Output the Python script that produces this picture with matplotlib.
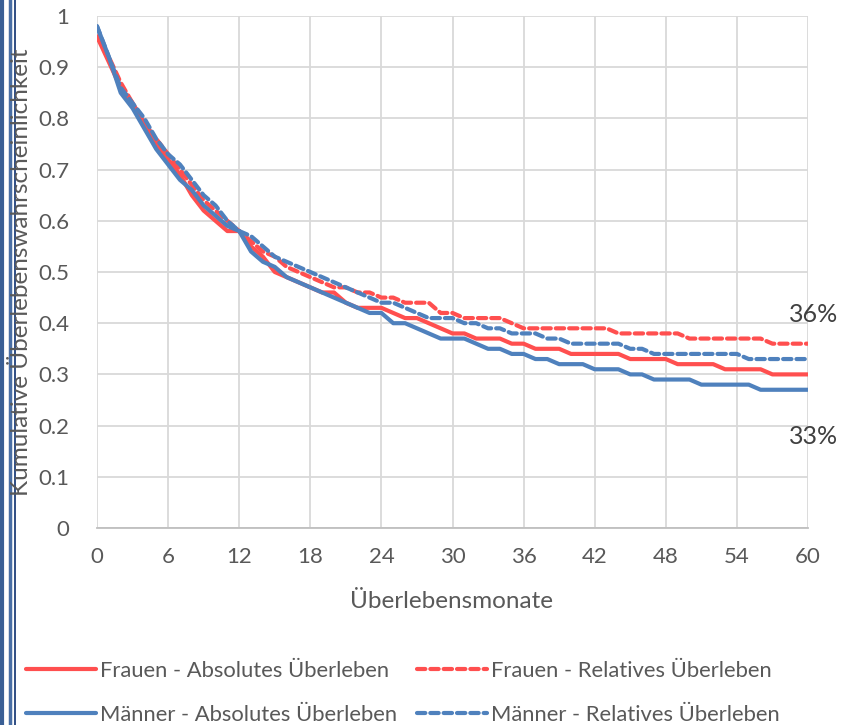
import matplotlib
matplotlib.use("Agg")
import matplotlib.pyplot as plt
from matplotlib.lines import Line2D

plt.rcParams['font.family'] = ['Lato', 'DejaVu Sans']

months = list(range(0, 61))

frauen_absolut = [0.96, 0.91, 0.86, 0.83, 0.79, 0.75, 0.72, 0.69, 0.65, 0.62,
                  0.60, 0.58, 0.58, 0.55, 0.53, 0.50, 0.49, 0.48, 0.47, 0.46,
                  0.46, 0.44, 0.43, 0.43, 0.43, 0.42, 0.41, 0.41, 0.40, 0.39,
                  0.38, 0.38, 0.37, 0.37, 0.37, 0.36, 0.36, 0.35, 0.35, 0.35,
                  0.34, 0.34, 0.34, 0.34, 0.34, 0.33, 0.33, 0.33, 0.33, 0.32,
                  0.32, 0.32, 0.32, 0.31, 0.31, 0.31, 0.31, 0.30, 0.30, 0.30,
                  0.30]
frauen_relativ = [0.96, 0.92, 0.87, 0.83, 0.79, 0.76, 0.73, 0.70, 0.67, 0.64,
                  0.62, 0.60, 0.58, 0.56, 0.54, 0.53, 0.51, 0.50, 0.49, 0.48,
                  0.47, 0.47, 0.46, 0.46, 0.45, 0.45, 0.44, 0.44, 0.44, 0.42,
                  0.42, 0.41, 0.41, 0.41, 0.41, 0.40, 0.39, 0.39, 0.39, 0.39,
                  0.39, 0.39, 0.39, 0.39, 0.38, 0.38, 0.38, 0.38, 0.38, 0.38,
                  0.37, 0.37, 0.37, 0.37, 0.37, 0.37, 0.37, 0.36, 0.36, 0.36,
                  0.36]
maenner_absolut = [0.98, 0.92, 0.85, 0.82, 0.78, 0.74, 0.71, 0.68, 0.66, 0.63,
                   0.61, 0.59, 0.58, 0.54, 0.52, 0.51, 0.49, 0.48, 0.47, 0.46,
                   0.45, 0.44, 0.43, 0.42, 0.42, 0.40, 0.40, 0.39, 0.38, 0.37,
                   0.37, 0.37, 0.36, 0.35, 0.35, 0.34, 0.34, 0.33, 0.33, 0.32,
                   0.32, 0.32, 0.31, 0.31, 0.31, 0.30, 0.30, 0.29, 0.29, 0.29,
                   0.29, 0.28, 0.28, 0.28, 0.28, 0.28, 0.27, 0.27, 0.27, 0.27,
                   0.27]
maenner_relativ = [0.98, 0.92, 0.86, 0.83, 0.80, 0.76, 0.73, 0.71, 0.68, 0.65,
                   0.63, 0.60, 0.58, 0.57, 0.55, 0.53, 0.52, 0.51, 0.50, 0.49,
                   0.48, 0.47, 0.46, 0.45, 0.44, 0.44, 0.43, 0.42, 0.41, 0.41,
                   0.41, 0.40, 0.40, 0.39, 0.39, 0.38, 0.38, 0.38, 0.37, 0.37,
                   0.36, 0.36, 0.36, 0.36, 0.36, 0.35, 0.35, 0.34, 0.34, 0.34,
                   0.34, 0.34, 0.34, 0.34, 0.34, 0.33, 0.33, 0.33, 0.33, 0.33,
                   0.33]

series_labels = ["Frauen - Absolutes Überleben", "Frauen - Relatives Überleben",
                 "Männer - Absolutes Überleben", "Männer - Relatives Überleben"]
x_ticks = [0, 6, 12, 18, 24, 30, 36, 42, 48, 54, 60]
y_ticks = [0, 0.1, 0.2, 0.3, 0.4, 0.5, 0.6, 0.7, 0.8, 0.9, 1]
y_tick_labels = ["0", "0.1", "0.2", "0.3", "0.4", "0.5", "0.6", "0.7", "0.8", "0.9", "1"]
annot_labels = ["36%", "33%"]
x_label = "Überlebensmonate"
y_label = "Kumulative Überlebenswahrscheinlichkeit"

RED = "#ff4f4f"
BLUE = "#4f81bd"
TXT = "#595959"

fig = plt.figure(figsize=(8.41, 7.25), dpi=100)
ax = fig.add_axes([97 / 841, 1 - 528 / 725, 711 / 841, 512 / 725])

lw = 3.0
dash = (0, (2.0, 1.2))
h_fa, = ax.plot(months, frauen_absolut, color=RED, lw=lw, solid_capstyle='round',
                label=series_labels[0])
h_fr, = ax.plot(months, frauen_relativ, color=RED, lw=lw, ls=dash,
                dash_capstyle='round', label=series_labels[1])
h_ma, = ax.plot(months, maenner_absolut, color=BLUE, lw=lw, solid_capstyle='round',
                label=series_labels[2])
h_mr, = ax.plot(months, maenner_relativ, color=BLUE, lw=lw, ls=dash,
                dash_capstyle='round', label=series_labels[3])

ax.set_xlim(0, 60)
ax.set_ylim(0, 1)
ax.set_xticks(x_ticks)
ax.set_yticks(y_ticks)
ax.set_yticklabels(y_tick_labels)
ax.grid(True, color="#d9d9d9", lw=1.3)
ax.set_axisbelow(True)
for s in ["top", "right", "left"]:
    ax.spines[s].set_visible(False)
ax.spines["bottom"].set_color("#bfbfbf")
ax.spines["bottom"].set_linewidth(1.3)
ax.tick_params(axis='both', length=0, labelsize=16, labelcolor=TXT)
ax.tick_params(axis='x', pad=14)
ax.tick_params(axis='y', pad=20)

fig.text(452 / 841, 1 - 601 / 725, x_label, ha='center', va='center',
         fontsize=17.5, color=TXT)
fig.text(22 / 841, 1 - 272 / 725, y_label, ha='center', va='center',
         rotation=90, fontsize=17.5, color=TXT)

fig.text(838 / 841, 1 - 315 / 725, annot_labels[0], ha='right', va='center',
         fontsize=18, color="#404040")
fig.text(838 / 841, 1 - 436 / 725, annot_labels[1], ha='right', va='center',
         fontsize=18, color="#404040")

# legend: matplotlib fills columns first, so order handles to give row-wise layout
leg = fig.legend([h_fa, h_ma, h_fr, h_mr],
                 [series_labels[0], series_labels[2], series_labels[1], series_labels[3]],
                 loc='center', ncol=2,
                 bbox_to_anchor=(403 / 841, 1 - 693 / 725),
                 frameon=False, fontsize=15.8, handlelength=3.2,
                 handletextpad=0.17, columnspacing=0.9, labelspacing=1.1)
for t in leg.get_texts():
    t.set_color(TXT)

# left border lines
for xp, col, w in [(1.5, "#3a5f95", 3.0), (9.5, "#4a6fa5", 2.5), (15.5, "#1f3f7a", 1.3)]:
    fig.add_artist(Line2D([xp / 841, xp / 841], [0, 1], color=col, lw=w,
                          transform=fig.transFigure))

fig.savefig("out.png", dpi=100)
